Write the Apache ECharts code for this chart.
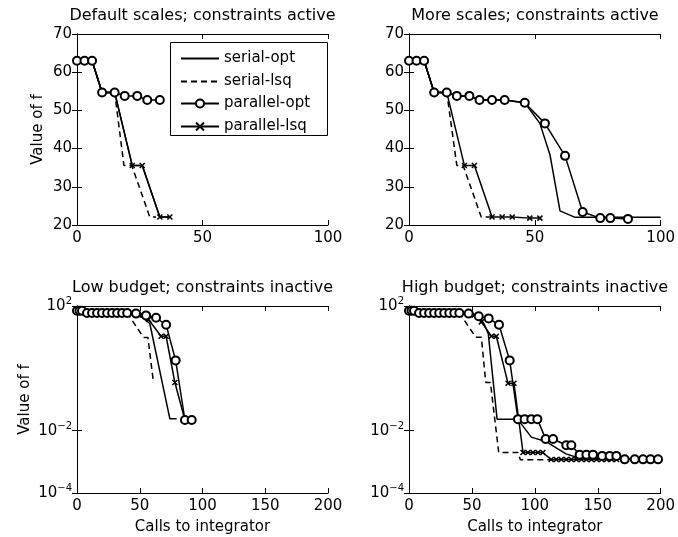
<!DOCTYPE html>
<html><head><meta charset="utf-8">
<script src="https://cdn.jsdelivr.net/npm/echarts@6/dist/echarts.min.js"></script>
<style>html,body{margin:0;padding:0;background:#fff}#c{width:678px;height:537px}</style>
</head><body><div id="c"></div>
<script>
// ---------- labels ----------
const seriesNames = ['serial-opt', 'serial-lsq', 'parallel-opt', 'parallel-lsq'];
const panelTitles = ['Default scales; constraints active', 'More scales; constraints active',
                     'Low budget; constraints inactive', 'High budget; constraints inactive'];
const yName = 'Value of f';
const xName = 'Calls to integrator';
const topXRange = [0, 100], topXStep = 50;
const topYRange = [20, 70], topYStep = 10;
const botXRange = [0, 200], botXStep = 50;
const botYRange = [1e-4, 1e2];
const botYTicks = [1e-4, 1e-2, 1e2];

// ---------- data: [calls, f] ----------
// Default scales; constraints active
const tlSerialOpt   = [[0,63],[6,63],[10,54.7],[15,54.7],[22,35.6],[26,35.6],[33,22.1],[37,22.1]];
const tlSerialLsq   = [[0,63],[6,63],[10,54.7],[15,54.7],[18.7,35.6],[21.8,35.6],[29,22.1],[31.5,22.1]];
const tlParallelOpt = [[0,63],[3,63],[6,63],[10,54.7],[15,54.7],[19,53.8],[24,53.8],[28,52.7],[33,52.7]];
const tlParallelLsq = [[0,63],[3,63],[6,63],[10,54.7],[15,54.7],[22,35.6],[26,35.6],[33,22.1],[37,22.1]];
// More scales; constraints active
const trSerialOpt   = [[0,63],[6,63],[10,54.7],[15,54.7],[19,53.8],[24,53.8],[28,52.7],[38,52.7],[46,52],[52,46.6],[56,38.4],[60,23.7],[66,22],[100,22]];
const trSerialLsq   = [[0,63],[6,63],[10,54.7],[15,54.7],[19,35.6],[21.5,35.6],[28.7,22.1],[32.7,22.1]];
const trParallelOpt = [[0,63],[3,63],[6,63],[10,54.7],[15,54.7],[19,53.8],[24,53.8],[28,52.7],[33,52.7],[38,52.7],[46,52],[54,46.6],[62,38.1],[69,23.4],[76,21.8],[80,21.8],[87,21.6]];
const trParallelLsq = [[0,63],[3,63],[6,63],[10,54.7],[15,54.7],[22,35.6],[26,35.6],[33,22.1],[37,22.1],[41,22.1],[48,21.8],[52,21.8]];
// Low budget; constraints inactive
const blSerialOpt   = [[0,70],[6,60],[40,60],[48,57],[53,40],[58,27.5],[74,0.024],[79.4,0.024]];
const blSerialLsq   = [[0,70],[6,60],[40,60],[53,9.8],[56.5,9.8],[61,0.34]];
const blParallelOpt = [[0,70],[2,70],[4,70],[8,60],[12,60],[16,60],[20,60],[24,60],[28,60],[32,60],[36,60],[40,60],[47,57],[55,50],[63,42],[71,25],[78.6,1.8],[86,0.022],[91.4,0.022]];
const blParallelLsq = [[0,70],[2,70],[4,70],[8,60],[12,60],[16,60],[20,60],[24,60],[28,60],[32,60],[36,60],[40,60],[47,57],[52,52],[57,37],[67,10.7],[71,10.7],[78,0.35],[86,0.022],[91.4,0.022]];
// High budget; constraints inactive
const brSerialOpt   = [[0,70],[6,60],[40,60],[50,56],[56,45],[60,25],[63,13],[70,0.0234],[86.3,0.0234],[97.2,0.0062],[108.6,0.0045],[124.8,0.0018],[135.6,0.0013],[200,0.0012]];
const brSerialLsq   = [[0,70],[6,60],[40,60],[53,10],[57.5,10],[61,0.35],[64.7,0.35],[71.3,0.002],[86.6,0.002],[88.5,0.00117],[114,0.00117]];
const brParallelOpt = [[0,70],[2,70],[4,70],[8,60],[12,60],[16,60],[20,60],[24,60],[28,60],[32,60],[36,60],[40,60],[47.4,57],[55.4,47],[63.3,40],[71.5,25],[80,1.8],[86.6,0.0234],[91.9,0.0234],[97.2,0.0234],[102,0.0234],[108.6,0.0054],[114.5,0.0054],[125,0.0034],[129,0.0034],[135.6,0.0017],[141,0.0017],[146.2,0.0017],[153.4,0.00155],[159.5,0.00155],[164.8,0.00155],[171.4,0.0012],[179.4,0.0012],[186,0.0012],[191.9,0.0012],[197.9,0.0012]];
const brParallelLsq = [[0,70],[2,70],[4,70],[8,60],[12,60],[16,60],[20,60],[24,60],[28,60],[32,60],[36,60],[40,60],[47,57],[52,52],[57.5,31],[65.5,10.7],[69.4,10.7],[78.7,0.33],[83.4,0.33],[90.6,0.002],[94.5,0.002],[98.5,0.002],[102.5,0.002],[106.4,0.002],[113,0.00118],[117,0.00118],[121,0.00118],[125,0.00118],[129,0.00118],[133,0.00118],[137,0.00118],[141,0.00118],[145,0.00118],[149,0.00118],[153,0.00118],[157,0.00118],[161,0.00118],[165,0.00118]];

const panelData = [
  [tlSerialOpt, tlSerialLsq, tlParallelOpt, tlParallelLsq],
  [trSerialOpt, trSerialLsq, trParallelOpt, trParallelLsq],
  [blSerialOpt, blSerialLsq, blParallelOpt, blParallelLsq],
  [brSerialOpt, brSerialLsq, brParallelOpt, brParallelLsq]
];

// ---------- layout ----------
const FONT = 'DejaVu Sans';
const grids = [
  {left: 77,  top: 34,  width: 251, height: 191},
  {left: 409, top: 34,  width: 252, height: 191},
  {left: 77,  top: 306, width: 251, height: 187},
  {left: 409, top: 306, width: 252, height: 187}
];
const axisLineStyle = {show: true, lineStyle: {color: '#000', width: 1}};
const tickStyle = {show: true, inside: true, length: 5, lineStyle: {color: '#000', width: 1}};
const labelText = {color: '#000', fontFamily: FONT, fontSize: 15};

function supLabel(v) {
  const e = Math.round(Math.log10(v));
  return '{b|10}{s|' + (e < 0 ? '\u2212' : '') + Math.abs(e) + '}';
}

const xAxes = [], yAxes = [];
grids.forEach((g, i) => {
  const bottom = i >= 2;
  const xr = bottom ? botXRange : topXRange;
  const xs = bottom ? botXStep : topXStep;
  const xBase = {gridIndex: i, type: 'value', min: xr[0], max: xr[1], interval: xs,
    splitLine: {show: false}, axisLine: axisLineStyle, axisTick: tickStyle};
  xAxes.push(Object.assign({}, xBase, {position: 'bottom',
    axisLabel: Object.assign({margin: 6}, labelText),
    name: bottom ? xName : '', nameLocation: 'middle', nameGap: 27,
    nameTextStyle: {color: '#000', fontFamily: FONT, fontSize: 15}}));
  xAxes.push(Object.assign({}, xBase, {position: 'top', axisLabel: {show: false}}));

  let yBase;
  if (!bottom) {
    yBase = {gridIndex: i, type: 'value', min: topYRange[0], max: topYRange[1], interval: topYStep,
      splitLine: {show: false}, axisLine: axisLineStyle, axisTick: tickStyle};
  } else {
    yBase = {gridIndex: i, type: 'log', logBase: 10, min: botYRange[0], max: botYRange[1],
      splitLine: {show: false}, axisLine: axisLineStyle,
      axisTick: Object.assign({customValues: botYTicks}, tickStyle)};
  }
  const yLabel = bottom
    ? {customValues: botYTicks, margin: 5, formatter: supLabel,
       rich: {b: {color: '#000', fontFamily: FONT, fontSize: 15},
              s: {color: '#000', fontFamily: FONT, fontSize: 10, padding: [0, 0, 9, 0]}}}
    : Object.assign({margin: 5}, labelText);
  const leftCol = (i % 2 === 0);
  yAxes.push(Object.assign({}, yBase, {position: 'left', axisLabel: yLabel,
    name: leftCol ? yName : '', nameLocation: 'middle', nameGap: bottom ? 44 : 31,
    nameTextStyle: {color: '#000', fontFamily: FONT, fontSize: 15}}));
  yAxes.push(Object.assign({}, yBase, {position: 'right', axisLabel: {show: false}}));
});

const crossPath = 'path://M0,0L10,10M10,0L0,10';
function styleFor(k) {
  const base = {type: 'line', animation: false, silent: true, lineStyle: {color: '#000', width: 1.5}};
  if (k === 0) return Object.assign(base, {symbol: 'none', z: 2, itemStyle: {color: '#000'}});
  if (k === 1) return Object.assign(base, {symbol: 'none', z: 2, itemStyle: {color: '#000'},
    lineStyle: {color: '#000', width: 1.5, type: [6, 4]}});
  if (k === 2) return Object.assign(base, {symbol: 'emptyCircle', symbolSize: 8, z: 4,
    itemStyle: {color: '#000', borderColor: '#000', borderWidth: 1.3}});
  return Object.assign(base, {symbol: crossPath, symbolSize: 5, z: 3,
    itemStyle: {color: '#000', borderColor: '#000', borderWidth: 1.5}});
}

const series = [];
panelData.forEach((arrs, gi) => {
  arrs.forEach((d, k) => {
    series.push(Object.assign(styleFor(k), {
      name: seriesNames[k], xAxisIndex: 2 * gi, yAxisIndex: 2 * gi, data: d
    }));
  });
});

const titleCenters = grids.map(g => g.left + g.width / 2);
const titles = panelTitles.map((t, i) => ({
  text: t, left: titleCenters[i], textAlign: 'center', top: i < 2 ? 8 : 280, padding: 0,
  textStyle: {color: '#000', fontFamily: FONT, fontSize: 16, fontWeight: 'normal'}
}));

// legend: one single-item legend per entry, inside a framed box
const legendBox = {x: 170, y: 42, w: 157, h: 93};
const legendRowCenters = [57, 80, 102, 125];
const legends = seriesNames.map((n, k) => ({
  data: [k < 2 ? {name: n, itemStyle: {opacity: 0, borderWidth: 0}} : {name: n}],
  left: 180, top: legendRowCenters[k] - 6, orient: 'vertical',
  itemWidth: 38, itemHeight: 10, padding: 0,
  textStyle: {color: '#000', fontFamily: FONT, fontSize: 15}, selectedMode: false
}));

const option = {
  backgroundColor: '#fff',
  animation: false,
  title: titles,
  grid: grids,
  xAxis: xAxes,
  yAxis: yAxes,
  legend: legends,
  graphic: [{
    type: 'rect', z: 1, silent: true,
    shape: {x: legendBox.x + 0.5, y: legendBox.y + 0.5, width: legendBox.w, height: legendBox.h},
    style: {fill: '#fff', stroke: '#000', lineWidth: 1}
  }],
  series: series
};
const chart = echarts.init(document.getElementById('c'), null, {renderer: 'canvas'});
chart.setOption(option);
</script></body></html>
